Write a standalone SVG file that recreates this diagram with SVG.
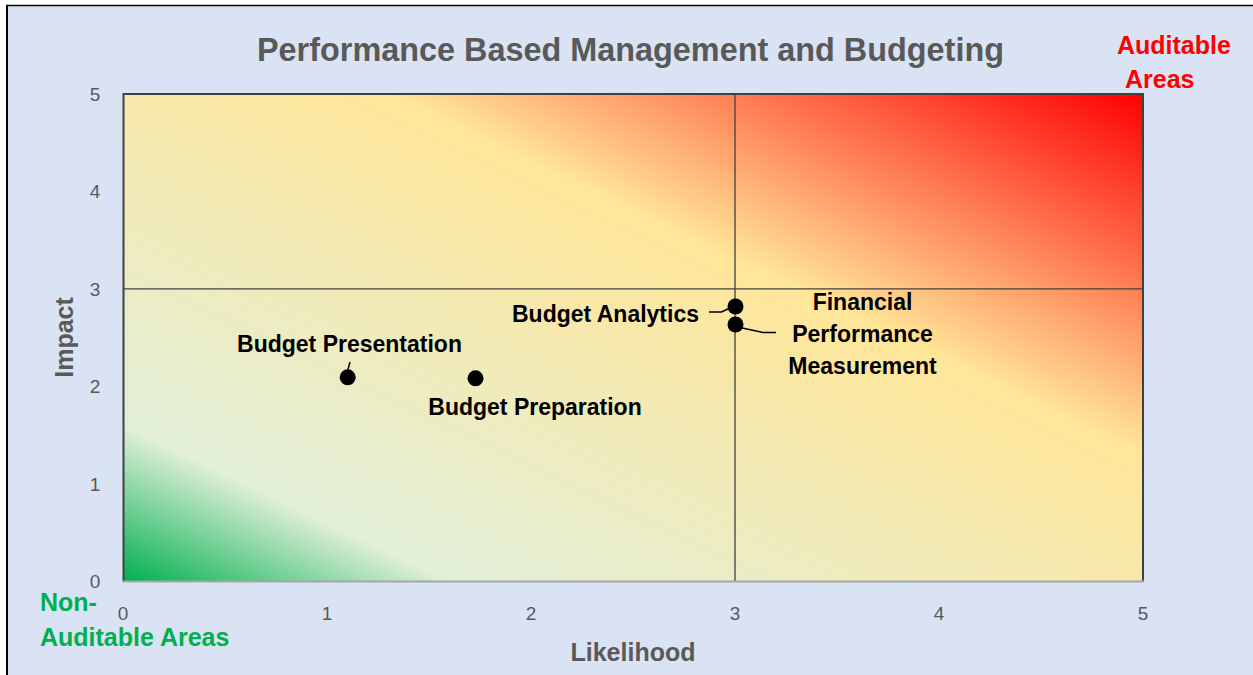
<svg xmlns="http://www.w3.org/2000/svg" width="1253" height="675" viewBox="0 0 1253 675">
<defs>
<linearGradient id="heat" x1="0" y1="1" x2="1" y2="0">
<stop offset="0" stop-color="#00b050"/>
<stop offset="0.16" stop-color="#e2efd9"/>
<stop offset="0.63" stop-color="#ffe699"/>
<stop offset="1" stop-color="#ff0000"/>
</linearGradient>
</defs>
<style>
.axis{font-family:"Liberation Sans",Arial,sans-serif;font-size:19px;fill:#595959;text-anchor:middle}
.ttl{font-family:"Liberation Sans",Arial,sans-serif;font-weight:bold;fill:#595959}
.lbl{font-family:"Liberation Sans",Arial,sans-serif;font-weight:bold;font-size:23px;fill:#000}
.zone{font-family:"Liberation Sans",Arial,sans-serif;font-weight:bold;font-size:25px}
.grid{stroke:#404040;stroke-width:1.3}
.lead{stroke:#000;stroke-width:1.5;fill:none}
.dot{fill:#000}
</style>
<rect width="1253" height="675" fill="#ffffff"/>
<rect x="7" y="5" width="1246" height="670" fill="#dae3f3"/>
<line x1="7" y1="5" x2="7" y2="675" stroke="#000" stroke-width="2"/>
<line x1="6" y1="5.5" x2="1253" y2="5.5" stroke="#000" stroke-width="1.5"/>

<g id="title">
<text class="ttl" x="630.5" y="61" font-size="32.4" text-anchor="middle" textLength="747">Performance Based Management and Budgeting</text>
</g>

<g id="plot">
<rect x="123.5" y="94" width="1019.5" height="487" fill="url(#heat)"/>
<line class="grid" x1="123.5" y1="288.8" x2="1143" y2="288.8"/>
<line class="grid" x1="735" y1="94" x2="735" y2="581"/>
<path d="M123.5,581 V94 H1143 V581" fill="none" stroke="#404040" stroke-width="2"/>
<line x1="122.5" y1="581.5" x2="1144" y2="581.5" stroke="#a6a6a6" stroke-width="2"/>
</g>

<g id="y-axis">
<text class="axis" x="95" y="588">0</text>
<text class="axis" x="95" y="490.6">1</text>
<text class="axis" x="95" y="393.2">2</text>
<text class="axis" x="95" y="295.8">3</text>
<text class="axis" x="95" y="198.4">4</text>
<text class="axis" x="95" y="101">5</text>
<text class="ttl" font-size="25" text-anchor="middle" transform="translate(73,337.5) rotate(-90)">Impact</text>
</g>

<g id="x-axis">
<text class="axis" x="123" y="619.5">0</text>
<text class="axis" x="327" y="619.5">1</text>
<text class="axis" x="531" y="619.5">2</text>
<text class="axis" x="735" y="619.5">3</text>
<text class="axis" x="939" y="619.5">4</text>
<text class="axis" x="1143" y="619.5">5</text>
<text class="ttl" font-size="25" x="633" y="661" text-anchor="middle">Likelihood</text>
</g>

<g id="zone-auditable">
<text class="zone" fill="#ff0000" x="1117" y="53.5">Auditable</text>
<text class="zone" fill="#ff0000" x="1125" y="88">Areas</text>
</g>
<g id="zone-non-auditable">
<text class="zone" fill="#00b050" x="40" y="611">Non-</text>
<text class="zone" fill="#00b050" x="40" y="646">Auditable Areas</text>
</g>

<g id="connectors">
<path class="lead" d="M348,369.5 L350,362"/>
<path class="lead" d="M709,312 H721.5 L729,308.5"/>
<path class="lead" d="M740,327.5 L763,332.5 H776"/>
</g>

<g id="budget-presentation">
<circle class="dot" cx="347.7" cy="377.3" r="8"/>
<text class="lbl" x="349.5" y="352" text-anchor="middle">Budget Presentation</text>
</g>
<g id="budget-preparation">
<circle class="dot" cx="475.5" cy="378.3" r="8"/>
<text class="lbl" x="535" y="415" text-anchor="middle">Budget Preparation</text>
</g>
<g id="budget-analytics">
<circle class="dot" cx="735.5" cy="306.5" r="8"/>
<text class="lbl" x="699" y="322" text-anchor="end">Budget Analytics</text>
</g>
<g id="financial-performance-measurement">
<circle class="dot" cx="735.5" cy="324.5" r="8"/>
<text class="lbl" x="862.5" y="310" text-anchor="middle">Financial</text>
<text class="lbl" x="862.5" y="342" text-anchor="middle">Performance</text>
<text class="lbl" x="862.5" y="374" text-anchor="middle">Measurement</text>
</g>
</svg>
